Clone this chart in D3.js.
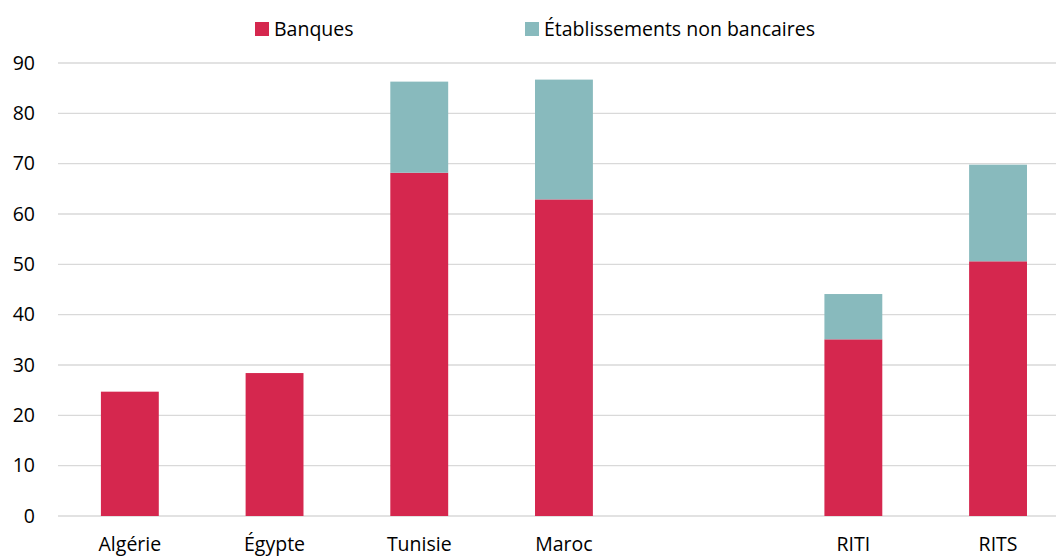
<!DOCTYPE html>
<html>
<head>
<meta charset="utf-8">
<script src="https://cdn.jsdelivr.net/npm/d3@7"></script>
<style>
  html, body { margin: 0; padding: 0; background: #fff; }
  svg { display: block; font-family: "Open Sans", "Liberation Sans", sans-serif; }
</style>
</head>
<body>
<svg id="chart" width="1056" height="558"></svg>
<script>
// Categories (an empty slot separates the countries from the regional averages)
const categories = ["Algérie", "Égypte", "Tunisie", "Maroc", "", "RITI", "RITS"];
// Banks
const banques = [24.7, 28.4, 68.2, 62.9, null, 35.1, 50.6];
// Non-bank institutions
const nonBancaires = [0, 0, 18.1, 23.8, null, 9.0, 19.2];
const yTicks = [0, 10, 20, 30, 40, 50, 60, 70, 80, 90];
const seriesNames = ["Banques", "Établissements non bancaires"];
const colors = ["#D5274E", "#88BABD"];

const svg = d3.select("#chart");
const W = 1056;
const FONT = 19.5;

const x = d3.scaleBand()
  .domain(d3.range(categories.length))
  .range([57.5, 57.5 + 7 * 144.7])
  .paddingInner(0.6)
  .paddingOuter(0.3);

const y = d3.scaleLinear().domain([0, 90]).range([516, 63]);

// Horizontal gridlines
svg.append("g")
  .selectAll("line")
  .data(yTicks)
  .join("line")
  .attr("x1", 58).attr("x2", W)
  .attr("y1", d => y(d)).attr("y2", d => y(d))
  .attr("stroke", "#d9d9d9")
  .attr("stroke-width", 1.3);

// Y axis labels
const yAxis = d3.axisLeft(y).tickValues(yTicks).tickSize(0).tickPadding(0);
const gy = svg.append("g").attr("transform", "translate(35,0)").call(yAxis);
gy.select(".domain").remove();
gy.selectAll("text")
  .attr("font-size", FONT)
  .attr("fill", "#000")
  .attr("font-family", "\"Open Sans\", sans-serif");

// Stack the two series
const rows = categories.map((c, i) => ({ i, b: banques[i], n: nonBancaires[i] }))
  .filter(r => r.b !== null);
const stack = d3.stack().keys(["b", "n"]);
const stacked = stack(rows);

svg.append("g")
  .selectAll("g")
  .data(stacked)
  .join("g")
  .attr("fill", (d, k) => colors[k])
  .selectAll("rect")
  .data(d => d.filter(s => s[1] - s[0] > 0))
  .join("rect")
  .attr("x", d => x(d.data.i))
  .attr("width", x.bandwidth())
  .attr("y", d => y(d[1]))
  .attr("height", d => y(d[0]) - y(d[1]));

// X axis labels
const xAxis = d3.axisBottom(x).tickSize(0).tickPadding(0).tickFormat(i => categories[i]);
const gx = svg.append("g").attr("transform", "translate(0,551)").call(xAxis);
gx.select(".domain").remove();
gx.selectAll("text")
  .attr("font-size", FONT)
  .attr("fill", "#000")
  .attr("dy", 0)
  .attr("y", 0)
  .attr("font-family", "\"Open Sans\", sans-serif");

// Legend
const legendX = [255, 525];
const legend = svg.append("g");
seriesNames.forEach((name, k) => {
  legend.append("rect")
    .attr("x", legendX[k]).attr("y", 22)
    .attr("width", 14).attr("height", 14)
    .attr("fill", colors[k]);
  legend.append("text")
    .attr("x", legendX[k] + 19).attr("y", 36)
    .attr("font-size", FONT)
    .attr("fill", "#000")
    .text(name);
});
</script>
</body>
</html>
